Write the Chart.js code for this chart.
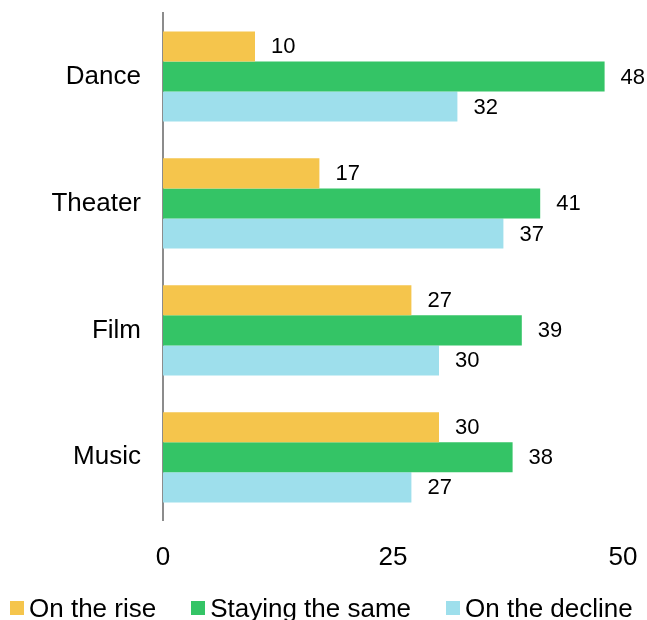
<!DOCTYPE html>
<html>
<head>
<meta charset="utf-8">
<script src="https://cdn.jsdelivr.net/npm/chart.js@4/dist/chart.umd.min.js"></script>
<style>
  html, body { margin: 0; padding: 0; background: #fff; }
  #wrap { position: relative; width: 647px; height: 620px; }
  #legend {
    position: absolute; left: 10px; top: 594px;
    display: flex; gap: 35px;
    font-family: "Liberation Sans", Arial, sans-serif; font-size: 26px; color: #000;
    white-space: nowrap;
  }
  #legend .item { display: flex; align-items: center; gap: 5px; line-height: 28px; }
  #legend .box { width: 14px; height: 14px; display: inline-block; }
</style>
</head>
<body>
<div id="wrap">
  <canvas id="chart" width="647" height="620"></canvas>
  <div id="legend"></div>
</div>
<script>
const categories = ['Dance', 'Theater', 'Film', 'Music'];
const seriesNames = ['On the rise', 'Staying the same', 'On the decline'];
const onTheRise = [10, 17, 27, 30];
const stayingSame = [48, 41, 39, 38];
const onTheDecline = [32, 37, 30, 27];
const xTicks = [0, 25, 50];
const colors = ['#F5C54C', '#34C466', '#9EDFEC'];

const font = "'Liberation Sans', Arial, sans-serif";

// value labels to the right of each bar
const valueLabels = {
    id: 'valueLabels',
    afterDatasetsDraw(chart) {
        const ctx = chart.ctx;
        ctx.save();
        ctx.font = '22px ' + font;
        ctx.fillStyle = '#000';
        ctx.textAlign = 'left';
        ctx.textBaseline = 'middle';
        chart.data.datasets.forEach((ds, i) => {
            chart.getDatasetMeta(i).data.forEach((bar, j) => {
                ctx.fillText(String(ds.data[j]), bar.x + 16, bar.y + 1);
            });
        });
        ctx.restore();
    }
};

const ctx = document.getElementById('chart').getContext('2d');
new Chart(ctx, {
    type: 'bar',
    data: {
        labels: categories,
        datasets: [
            { label: seriesNames[0], data: onTheRise, backgroundColor: colors[0] },
            { label: seriesNames[1], data: stayingSame, backgroundColor: colors[1] },
            { label: seriesNames[2], data: onTheDecline, backgroundColor: colors[2] }
        ]
    },
    options: {
        indexAxis: 'y',
        responsive: false,
        animation: false,
        layout: { padding: { top: 13, right: 24, bottom: 26, left: 0 } },
        datasets: { bar: { categoryPercentage: 0.71, barPercentage: 1 } },
        scales: {
            x: {
                min: 0, max: 50,
                afterBuildTicks: scale => { scale.ticks = xTicks.map(v => ({ value: v })); },
                grid: { display: false, drawTicks: false },
                border: { display: false },
                ticks: { color: '#000', padding: 21, font: { family: font, size: 26 } },
                afterFit: scale => {
                    scale.paddingLeft = 0;
                    scale.paddingRight = 0;
                }
            },
            y: {
                grid: { display: false, drawTicks: false },
                border: { display: true, color: '#8c8c8c', width: 2 },
                ticks: { color: '#000', padding: 22, font: { family: font, size: 26 } },
                afterFit: scale => {
                    scale.width = 163;
                    scale.paddingTop = 0;
                    scale.paddingBottom = 0;
                }
            }
        },
        plugins: {
            legend: { display: false },
            tooltip: { enabled: false }
        }
    },
    plugins: [valueLabels]
});

const legend = document.getElementById('legend');
seriesNames.forEach((name, i) => {
    const item = document.createElement('span');
    item.className = 'item';
    const box = document.createElement('span');
    box.className = 'box';
    box.style.background = colors[i];
    item.appendChild(box);
    item.appendChild(document.createTextNode(name));
    legend.appendChild(item);
});
</script>
</body>
</html>
